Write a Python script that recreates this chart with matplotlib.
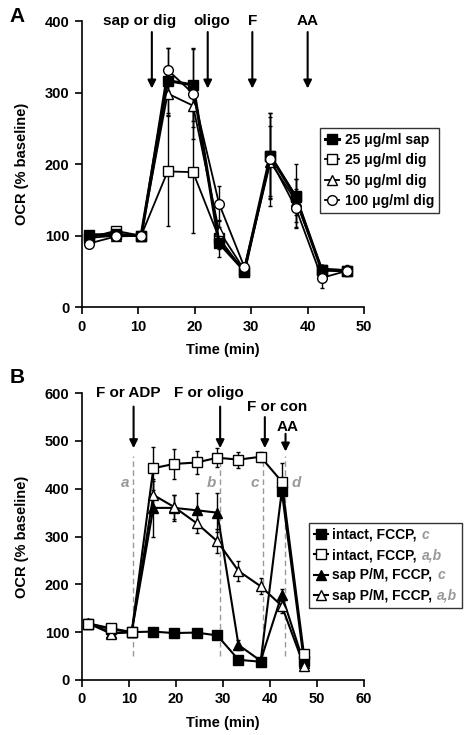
import matplotlib
matplotlib.use("Agg")
import matplotlib.pyplot as plt
from matplotlib.lines import Line2D
from matplotlib.offsetbox import TextArea

plt.rcParams['font.family'] = ['Liberation Sans', 'DejaVu Sans']
plt.rcParams['font.weight'] = 'bold'
plt.rcParams['axes.labelweight'] = 'bold'

# ---- Panel A data ----
time_a = [1.2, 6, 10.5, 15.2, 19.7, 24.3, 28.8, 33.4, 37.9, 42.5, 47]
sap25 = [101, 102, 100, 317, 311, 90, 51, 212, 154, 52, 51]
sap25_err = [5, 3, 0, 45, 50, 20, 5, 60, 25, 5, 5]
dig25 = [97, 107, 100, 190, 189, 97, 49, 211, 156, 52, 51]
dig25_err = [5, 5, 0, 77, 85, 15, 5, 55, 45, 5, 5]
dig50 = [97, 100, 100, 299, 282, 107, 52, 203, 149, 54, 52]
dig50_err = [5, 5, 0, 30, 30, 15, 5, 50, 30, 5, 5]
dig100 = [89, 99, 100, 332, 299, 145, 56, 207, 139, 41, 51]
dig100_err = [5, 3, 0, 30, 63, 25, 5, 65, 27, 14, 8]

# ---- Panel B data ----
time_b = [1.4, 6.2, 10.6, 15.2, 19.6, 24.4, 28.8, 33.3, 38.0, 42.5, 47.2]
intact_c = [118, 106, 100, 101, 98, 99, 93, 42, 38, 395, 40]
intact_c_err = [5, 5, 0, 5, 4, 4, 5, 4, 4, 10, 5]
intact_ab = [118, 108, 100, 443, 452, 455, 465, 461, 467, 415, 55]
intact_ab_err = [5, 5, 0, 45, 31, 25, 20, 17, 11, 38, 5]
sap_c = [120, 98, 100, 360, 360, 355, 350, 73, 40, 178, 35]
sap_c_err = [8, 5, 0, 60, 27, 37, 41, 10, 4, 12, 5]
sap_ab = [118, 97, 100, 387, 362, 328, 290, 228, 196, 155, 30]
sap_ab_err = [8, 5, 0, 30, 25, 20, 25, 20, 17, 15, 5]

labels_a = ['25 \u03bcg/ml sap', '25 \u03bcg/ml dig', '50 \u03bcg/ml dig', '100 \u03bcg/ml dig']
labels_b = ['intact, FCCP,', 'intact, FCCP,', 'sap P/M, FCCP,', 'sap P/M, FCCP,']
suffixes_b = ['c', 'a,b', 'c', 'a,b']

fig = plt.figure(figsize=(4.65, 7.35), dpi=100)
axA = fig.add_axes([0.176, 0.582, 0.607, 0.389])
axB = fig.add_axes([0.176, 0.075, 0.607, 0.390])

def series(ax, x, y, err, marker, face, lw, ms=7):
    ax.errorbar(x, y, yerr=err, color='black', marker=marker, markerfacecolor=face,
                markeredgecolor='black', markersize=ms, markeredgewidth=1.0,
                linewidth=lw, elinewidth=1.0, capsize=1.5, capthick=1.0)
    return Line2D([], [], color='black', marker=marker, markerfacecolor=face,
                  markeredgecolor='black', markersize=ms, markeredgewidth=1.0, linewidth=lw)

# Panel A
h_dig25 = series(axA, time_a, dig25, dig25_err, 's', 'white', 1.3)
h_dig50 = series(axA, time_a, dig50, dig50_err, '^', 'white', 1.3)
h_sap25 = series(axA, time_a, sap25, sap25_err, 's', 'black', 2.2)
h_dig100 = series(axA, time_a, dig100, dig100_err, 'o', 'white', 1.3)

# Panel B
h_ic = series(axB, time_b, intact_c, intact_c_err, 's', 'black', 1.5)
h_sc = series(axB, time_b, sap_c, sap_c_err, '^', 'black', 1.5)
h_sab = series(axB, time_b, sap_ab, sap_ab_err, '^', 'white', 1.5)
h_iab = series(axB, time_b, intact_ab, intact_ab_err, 's', 'white', 1.5)

for ax in (axA, axB):
    ax.spines['top'].set_visible(False)
    ax.spines['right'].set_visible(False)
    ax.tick_params(direction='out', length=5, width=1.2, labelsize=10.5, pad=4)
    ax.set_ylabel('OCR (% baseline)', fontsize=10.5, fontweight='bold', labelpad=11)
    ax.set_xlabel('Time (min)', fontsize=10.5, fontweight='bold', labelpad=7)
    for s in ax.spines.values():
        s.set_linewidth(1.2)

axA.set_xlim(0, 50)
axA.set_ylim(0, 400)
axA.set_xticks([0, 10, 20, 30, 40, 50])
axA.set_yticks([0, 100, 200, 300, 400])
axB.set_xlim(0, 60)
axB.set_ylim(0, 600)
axB.set_xticks([0, 10, 20, 30, 40, 50, 60])
axB.set_yticks([0, 100, 200, 300, 400, 500, 600])
for ax in (axA, axB):
    for lab in ax.get_xticklabels() + ax.get_yticklabels():
        lab.set_fontweight('bold')

# Arrows panel A
arrow_kw = dict(arrowstyle='-|>', color='black', lw=1.5, mutation_scale=12, shrinkA=0, shrinkB=0)
for x, txt, tx in [(12.4, 'sap or dig', 10.2), (22.3, 'oligo', 23.0), (30.2, 'F', 30.3), (40.0, 'AA', 40.0)]:
    axA.annotate('', xy=(x, 306), xytext=(x, 385), arrowprops=arrow_kw, annotation_clip=False)
    axA.text(tx, 400, txt, ha='center', va='center', fontsize=11, fontweight='bold', clip_on=False)

# Arrows panel B
for x, y0, y1 in [(11.0, 572, 485), (29.4, 572, 485), (38.9, 550, 485), (43.3, 515, 478)]:
    axB.annotate('', xy=(x, y1), xytext=(x, y0), arrowprops=arrow_kw, annotation_clip=False)
for tx, ty, txt in [(9.9, 600, 'F or ADP'), (27.1, 600, 'F or oligo'), (41.6, 572, 'F or con'), (43.7, 530, 'AA')]:
    axB.text(tx, ty, txt, ha='center', va='center', fontsize=11, fontweight='bold', clip_on=False)

# Dashed reference lines panel B
gray = '#999999'
for x, lx, letter in [(10.9, 9.2, 'a'), (29.3, 27.6, 'b'), (38.5, 36.8, 'c'), (43.2, 45.6, 'd')]:
    axB.plot([x, x], [50, 468], color=gray, lw=1.0, ls=(0, (4, 2.5)), zorder=0)
    axB.text(lx, 412, letter, color=gray, fontsize=11, fontstyle='italic', fontweight='bold',
             ha='center', va='center')

# Legends
leg_fs = 10
leg_kw = dict(loc='upper left', frameon=True, fancybox=False, edgecolor='black',
              fontsize=leg_fs, handlelength=1.0, handletextpad=0.4, borderpad=0.35,
              labelspacing=0.45, borderaxespad=0)
legA = axA.legend([h_sap25, h_dig25, h_dig50, h_dig100], labels_a,
                  bbox_to_anchor=(0.845, 0.626), **leg_kw)
legA.get_frame().set_linewidth(1.0)

legB = axB.legend([h_ic, h_iab, h_sc, h_sab], labels_b,
                  bbox_to_anchor=(0.804, 0.547), **leg_kw)
legB.get_frame().set_linewidth(1.0)
for t in legA.get_texts() + legB.get_texts():
    t.set_fontweight('bold')

# gray italic suffix appended to each legend B row
rows = [item for col in legB._legend_handle_box.get_children() for item in col.get_children()]
for item, suf in zip(rows, suffixes_b):
    ta = TextArea(suf, textprops=dict(color=gray, fontsize=leg_fs, fontstyle='italic',
                                      fontweight='bold'))
    ta.set_figure(fig)
    item.sep = 3.5
    item._children.append(ta)

# Panel labels
fig.text(0.02, 0.978, 'A', fontsize=15, fontweight='bold', va='center')
fig.text(0.02, 0.487, 'B', fontsize=15, fontweight='bold', va='center')

plt.savefig('out.png', dpi=100)
